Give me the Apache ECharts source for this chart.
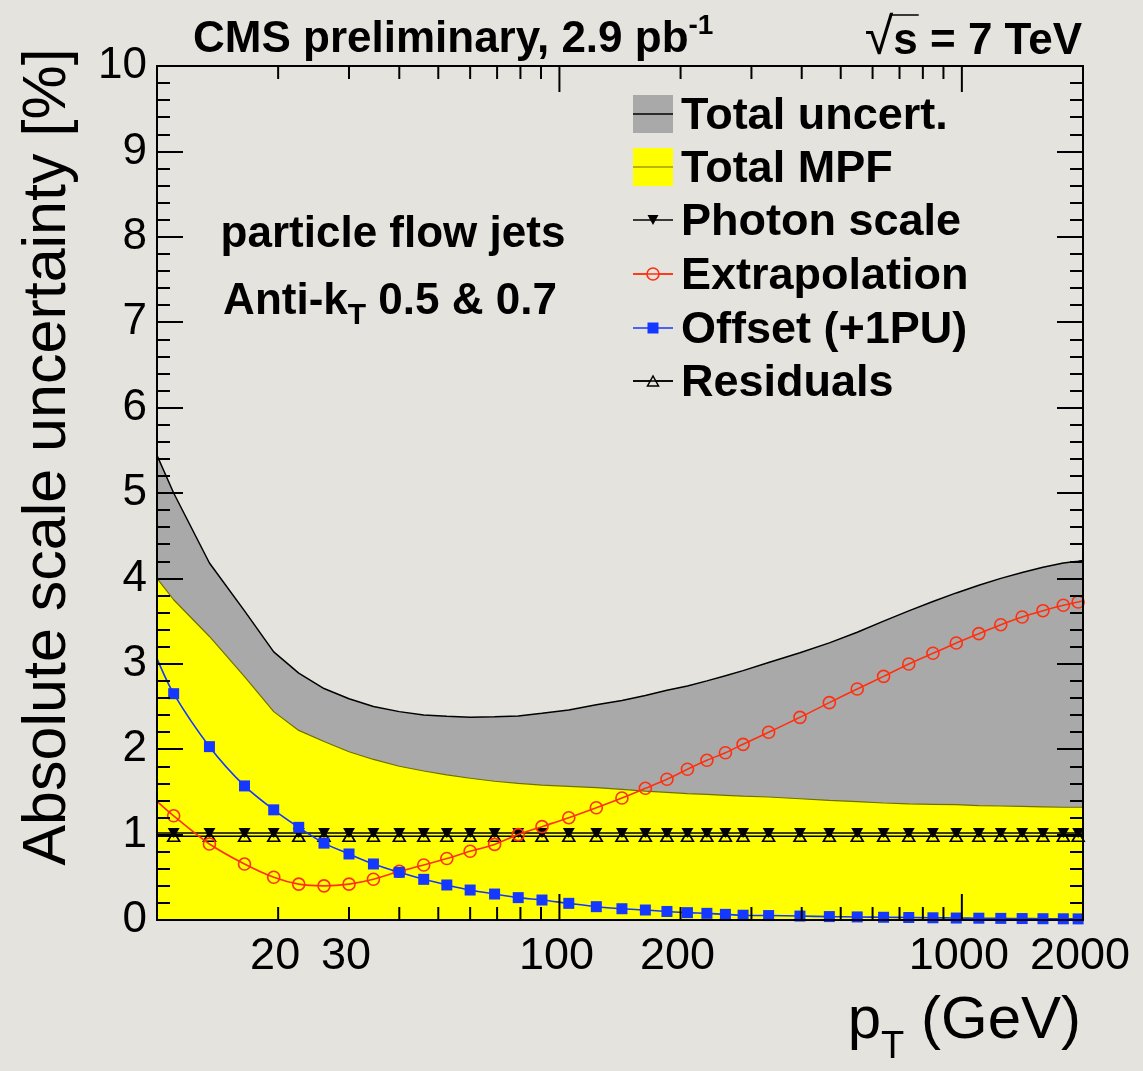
<!DOCTYPE html>
<html>
<head>
<meta charset="utf-8">
<script src="https://cdn.jsdelivr.net/npm/echarts@6/dist/echarts.min.js"></script>
<style>
html,body{margin:0;padding:0;background:#e5e3de;}
#main{width:1143px;height:1071px;}
</style>
</head>
<body>
<div id="main"></div>
<script>
// ---------------- data ----------------
const ptRange = [10, 2000];
const ptCenters = [11, 13.5, 16.5, 19.5, 22.5, 26, 30, 34.5, 40, 46,
  52.5, 60, 69, 79, 90.5, 105.5, 123.5, 143, 163.5, 185,
  208, 232.5, 258.5, 286, 331, 396, 468.5, 549.5, 639, 738,
  847.5, 968.5, 1102, 1249.5, 1412, 1590.5, 1787, 1945];

const totalUncert = [5.0, 4.18, 3.62, 3.14, 2.89, 2.71, 2.59, 2.50, 2.44, 2.40,
  2.385, 2.375, 2.38, 2.39, 2.42, 2.46, 2.52, 2.57, 2.63, 2.69,
  2.74, 2.80, 2.86, 2.92, 3.015, 3.13, 3.245, 3.37, 3.50, 3.62,
  3.73, 3.83, 3.92, 4.00, 4.07, 4.13, 4.18, 4.20];
const totalUncertEnds = [5.44, 4.21];

const totalMPF = [3.75, 3.32, 2.85, 2.44, 2.22, 2.09, 1.97, 1.88, 1.80, 1.745,
  1.70, 1.66, 1.625, 1.60, 1.58, 1.565, 1.55, 1.53, 1.51, 1.495,
  1.48, 1.47, 1.46, 1.45, 1.44, 1.42, 1.40, 1.385, 1.37, 1.36,
  1.355, 1.35, 1.34, 1.335, 1.33, 1.325, 1.32, 1.32];
const totalMPFEnds = [4.0, 1.32];

const photonScale = [1.02, 1.02, 1.02, 1.02, 1.02, 1.02, 1.02, 1.02, 1.02, 1.02,
  1.02, 1.02, 1.02, 1.02, 1.02, 1.02, 1.02, 1.02, 1.02, 1.02,
  1.02, 1.02, 1.02, 1.02, 1.02, 1.02, 1.02, 1.02, 1.02, 1.02,
  1.02, 1.02, 1.02, 1.02, 1.02, 1.02, 1.02, 1.02];
const photonScaleEnds = [1.02, 1.02];

const extrapolation = [1.22, 0.89, 0.655, 0.50, 0.42, 0.40, 0.42, 0.477, 0.57, 0.644,
  0.72, 0.805, 0.885, 1.00, 1.093, 1.198, 1.315, 1.429, 1.542, 1.648,
  1.765, 1.87, 1.959, 2.057, 2.198, 2.373, 2.545, 2.705, 2.853, 2.998,
  3.123, 3.243, 3.353, 3.458, 3.548, 3.622, 3.685, 3.724];
const extrapolationEnds = [1.39, 3.735];

const offsetPU = [2.65, 2.03, 1.57, 1.29, 1.085, 0.90, 0.773, 0.656, 0.558, 0.476,
  0.41, 0.351, 0.304, 0.262, 0.234, 0.195, 0.156, 0.132, 0.117, 0.10,
  0.086, 0.078, 0.066, 0.056, 0.052, 0.046, 0.04, 0.036, 0.032, 0.029,
  0.026, 0.023, 0.021, 0.019, 0.017, 0.015, 0.014, 0.013];
const offsetPUEnds = [3.06, 0.013];

const residuals = [0.98, 0.98, 0.98, 0.98, 0.98, 0.98, 0.98, 0.98, 0.98, 0.98,
  0.98, 0.98, 0.98, 0.98, 0.98, 0.98, 0.98, 0.98, 0.98, 0.98,
  0.98, 0.98, 0.98, 0.98, 0.98, 0.98, 0.98, 0.98, 0.98, 0.98,
  0.98, 0.98, 0.98, 0.98, 0.98, 0.98, 0.98, 0.98];
const residualsEnds = [0.98, 0.98];

const xMajorTicks = [100, 1000];
const xMinorTicks = [20, 30, 40, 50, 60, 70, 80, 90, 200, 300, 400, 500, 600, 700, 800, 900, 2000];
const xTickLabels = [20, 30, 100, 200, 1000, 2000];
const yRange = [0, 10];

const legendNames = ['Total uncert.', 'Total MPF', 'Photon scale', 'Extrapolation', 'Offset (+1PU)', 'Residuals'];

// ---------------- helpers ----------------
const FONT = '"Liberation Sans", Arial, Helvetica, sans-serif';
const BG = '#e5e3de';
const RED = '#ff3010';
const BLUE = '#1438ff';
const mctx = document.createElement('canvas').getContext('2d');
function tw(text, size, weight) {
  mctx.font = (weight || 'normal') + ' ' + size + 'px ' + FONT;
  return mctx.measureText(text).width;
}
function withEnds(vals, ends) {
  const d = [{ value: [ptRange[0], ends[0]], symbol: 'none' }];
  ptCenters.forEach((x, i) => d.push([x, vals[i]]));
  d.push({ value: [ptRange[1], ends[1]], symbol: 'none' });
  return d;
}
// sequence of text pieces (for sub/superscripts)
function textSeq(x0, y, pieces, align) {
  const widths = pieces.map(p => tw(p.text, p.size, p.weight));
  const total = widths.reduce((a, b) => a + b, 0);
  const start = align === 'right' ? x0 - total : align === 'center' ? x0 - total / 2 : x0;
  let x = start;
  const els = [];
  pieces.forEach((p, i) => {
    els.push({
      type: 'text', x: x, y: y + (p.dy || 0), silent: true, z: 20,
      style: { text: p.text, fontSize: p.size, fontWeight: p.weight || 'normal', fontFamily: FONT,
        fill: '#000', align: 'left', verticalAlign: 'middle' }
    });
    x += widths[i];
  });
  return { els: els, start: start, widths: widths };
}

// ---------------- chart ----------------
const chart = echarts.init(document.getElementById('main'), null, { renderer: 'canvas' });

const AX = '#000';

function xAxisDef(pos) {
  return {
    type: 'log', logBase: 10, position: pos, min: ptRange[0], max: ptRange[1], z: 10,
    axisLine: { show: true, onZero: false, lineStyle: { color: AX, width: 2 } },
    axisTick: { show: false }, minorTick: { show: false },
    axisLabel: { show: false }, splitLine: { show: false }
  };
}
function yAxisDef(pos, labels) {
  return {
    type: 'value', position: pos, min: yRange[0], max: yRange[1], interval: 1, z: 10,
    axisLine: { show: true, onZero: false, lineStyle: { color: AX, width: 2 } },
    axisTick: { show: true, inside: true, length: 26, lineStyle: { color: AX, width: 2 } },
    minorTick: { show: true, splitNumber: 5, length: 13, lineStyle: { color: AX, width: 2 } },
    axisLabel: { show: labels, margin: 10, fontSize: 44, fontFamily: FONT, color: '#000' },
    splitLine: { show: false }, minorSplitLine: { show: false }
  };
}

function tickSeries(values, len) {
  return {
    type: 'custom', xAxisIndex: 0, yAxisIndex: 0, z: 10, silent: true, clip: false,
    data: values.map(v => [v, 0]), encode: { x: 0, y: 1 },
    renderItem: function (params, api) {
      const v = api.value(0);
      const b = api.coord([v, yRange[0]]);
      const t = api.coord([v, yRange[1]]);
      return {
        type: 'group', children: [
          { type: 'line', shape: { x1: b[0], y1: b[1], x2: b[0], y2: b[1] - len }, style: { stroke: AX, lineWidth: 2 } },
          { type: 'line', shape: { x1: t[0], y1: t[1], x2: t[0], y2: t[1] + len }, style: { stroke: AX, lineWidth: 2 } }
        ]
      };
    }
  };
}

const series = [
  {
    name: legendNames[0], type: 'line', data: withEnds(totalUncert, totalUncertEnds), symbol: 'none',
    lineStyle: { color: '#000', width: 1.5 }, areaStyle: { color: '#a9a9a9', opacity: 1 }, z: 2
  },
  {
    name: legendNames[1], type: 'line', data: withEnds(totalMPF, totalMPFEnds), symbol: 'none',
    lineStyle: { color: '#707000', width: 1.2 }, areaStyle: { color: '#ffff00', opacity: 1 }, z: 3
  },
  {
    name: legendNames[2], type: 'line', data: withEnds(photonScale, photonScaleEnds),
    symbol: 'triangle', symbolRotate: 180, symbolSize: [12, 10], showAllSymbol: true,
    lineStyle: { color: '#000', width: 1.5 }, itemStyle: { color: '#000' }, z: 4
  },
  {
    name: legendNames[5], type: 'line', data: withEnds(residuals, residualsEnds),
    symbol: 'triangle', symbolSize: [12, 10], showAllSymbol: true,
    lineStyle: { color: '#000', width: 1.5 }, itemStyle: { color: 'rgba(0,0,0,0)', borderColor: '#000', borderWidth: 1.6 }, z: 4
  },
  {
    name: legendNames[3], type: 'line', data: withEnds(extrapolation, extrapolationEnds), smooth: 0.3,
    symbol: 'circle', symbolSize: 12, showAllSymbol: true,
    lineStyle: { color: RED, width: 1.6 }, itemStyle: { color: 'rgba(0,0,0,0)', borderColor: RED, borderWidth: 1.6 }, z: 5
  },
  {
    name: legendNames[4], type: 'line', data: withEnds(offsetPU, offsetPUEnds), smooth: 0.3,
    symbol: 'rect', symbolSize: 11, showAllSymbol: true,
    lineStyle: { color: BLUE, width: 1.6 }, itemStyle: { color: BLUE }, z: 6
  },
  tickSeries(xMinorTicks, 13),
  tickSeries(xMajorTicks, 26),
  {
    type: 'custom', xAxisIndex: 0, yAxisIndex: 0, z: 10, silent: true, clip: false,
    data: xTickLabels.map(v => [v, 0]), encode: { x: 0, y: 1 },
    renderItem: function (params, api) {
      const v = api.value(0);
      const b = api.coord([v, yRange[0]]);
      return {
        type: 'text', x: b[0] - 3, y: b[1] + 37,
        style: { text: String(v), fontSize: 45, fontFamily: FONT, fill: '#000', align: 'center', verticalAlign: 'middle' }
      };
    }
  }
];

// ---------------- text & legend graphics ----------------
const graphics = [];
// y-axis title
graphics.push({
  type: 'text', x: 48, y: 457, rotation: Math.PI / 2, silent: true, z: 20,
  style: { text: 'Absolute scale uncertainty [%]', fontSize: 61, fontFamily: FONT, fill: '#000', align: 'center', verticalAlign: 'middle' }
});
// x-axis title p_T (GeV)
textSeq(1081, 1021, [
  { text: 'p', size: 60 },
  { text: 'T', size: 38, dy: 27 },
  { text: ' (GeV)', size: 60 }
], 'right').els.forEach(e => graphics.push(e));
// CMS preliminary
textSeq(193, 40, [
  { text: 'CMS preliminary, 2.9 pb', size: 44, weight: 'bold' },
  { text: '-1', size: 28, weight: 'bold', dy: -14 }
], 'left').els.forEach(e => graphics.push(e));
// sqrt(s) = 7 TeV
const sq = textSeq(1082, 42, [
  { text: '\u221A', size: 52, weight: 'normal', dy: -2 },
  { text: 's = 7 TeV', size: 44, weight: 'bold' }
], 'right');
sq.els.forEach(e => graphics.push(e));
graphics.push({
  type: 'line', silent: true, z: 20,
  shape: { x1: sq.start + sq.widths[0] - 3, y1: 15, x2: sq.start + sq.widths[0] + tw('s', 44, 'bold') + 1, y2: 15 },
  style: { stroke: '#000', lineWidth: 1.5 }
});
// annotations
graphics.push({
  type: 'text', x: 393, y: 235, silent: true, z: 20,
  style: { text: 'particle flow jets', fontSize: 44, fontWeight: 'bold', fontFamily: FONT, fill: '#000', align: 'center', verticalAlign: 'middle' }
});
textSeq(390, 302, [
  { text: 'Anti-k', size: 44, weight: 'bold' },
  { text: 'T', size: 30, weight: 'bold', dy: 14 },
  { text: ' 0.5 & 0.7', size: 44, weight: 'bold' }
], 'center').els.forEach(e => graphics.push(e));

// legend
const LX0 = 633, LX1 = 673, LMX = 653, TX = 681;
const rowY = [114, 167, 220, 274, 328, 381];
graphics.push({ type: 'rect', silent: true, z: 20, shape: { x: LX0, y: rowY[0] - 19, width: LX1 - LX0, height: 38 }, style: { fill: '#a9a9a9' } });
graphics.push({ type: 'line', silent: true, z: 21, shape: { x1: LX0, y1: rowY[0], x2: LX1, y2: rowY[0] }, style: { stroke: '#000', lineWidth: 1.5 } });
graphics.push({ type: 'rect', silent: true, z: 20, shape: { x: LX0, y: rowY[1] - 19, width: LX1 - LX0, height: 38 }, style: { fill: '#ffff00' } });
graphics.push({ type: 'line', silent: true, z: 21, shape: { x1: LX0, y1: rowY[1], x2: LX1, y2: rowY[1] }, style: { stroke: '#707000', lineWidth: 1.2 } });
// photon
graphics.push({ type: 'line', silent: true, z: 20, shape: { x1: LX0, y1: rowY[2], x2: LX1, y2: rowY[2] }, style: { stroke: '#000', lineWidth: 1.5 } });
graphics.push({ type: 'polygon', silent: true, z: 21, shape: { points: [[LMX - 5.5, rowY[2] - 5], [LMX + 5.5, rowY[2] - 5], [LMX, rowY[2] + 5]] }, style: { fill: '#000' } });
// extrapolation
graphics.push({ type: 'line', silent: true, z: 20, shape: { x1: LX0, y1: rowY[3], x2: LX1, y2: rowY[3] }, style: { stroke: RED, lineWidth: 1.5 } });
graphics.push({ type: 'circle', silent: true, z: 21, shape: { cx: LMX, cy: rowY[3], r: 6 }, style: { fill: BG, stroke: RED, lineWidth: 1.6 } });
graphics.push({ type: 'line', silent: true, z: 22, shape: { x1: LX0, y1: rowY[3], x2: LX1, y2: rowY[3] }, style: { stroke: RED, lineWidth: 1.5 } });
// offset
graphics.push({ type: 'line', silent: true, z: 20, shape: { x1: LX0, y1: rowY[4], x2: LX1, y2: rowY[4] }, style: { stroke: BLUE, lineWidth: 1.5 } });
graphics.push({ type: 'rect', silent: true, z: 21, shape: { x: LMX - 5.5, y: rowY[4] - 5.5, width: 11, height: 11 }, style: { fill: BLUE } });
// residuals
graphics.push({ type: 'line', silent: true, z: 20, shape: { x1: LX0, y1: rowY[5], x2: LX1, y2: rowY[5] }, style: { stroke: '#000', lineWidth: 1.5 } });
graphics.push({ type: 'polygon', silent: true, z: 21, shape: { points: [[LMX - 5.5, rowY[5] + 5], [LMX + 5.5, rowY[5] + 5], [LMX, rowY[5] - 5]] }, style: { fill: BG, stroke: '#000', lineWidth: 1.5 } });
graphics.push({ type: 'line', silent: true, z: 22, shape: { x1: LX0, y1: rowY[5], x2: LX1, y2: rowY[5] }, style: { stroke: '#000', lineWidth: 1.5 } });
legendNames.forEach((n, i) => {
  graphics.push({
    type: 'text', x: TX, y: rowY[i] + 3, silent: true, z: 20,
    style: { text: n, fontSize: 45, fontWeight: 'bold', fontFamily: FONT, fill: '#000', align: 'left', verticalAlign: 'middle' }
  });
});

chart.setOption({
  animation: false,
  backgroundColor: BG,
  grid: { left: 157, right: 60, top: 66, bottom: 151, containLabel: false },
  xAxis: [xAxisDef('bottom'), xAxisDef('top')],
  yAxis: [yAxisDef('left', true), yAxisDef('right', false)],
  series: series,
  graphic: graphics
});
</script>
</body>
</html>
